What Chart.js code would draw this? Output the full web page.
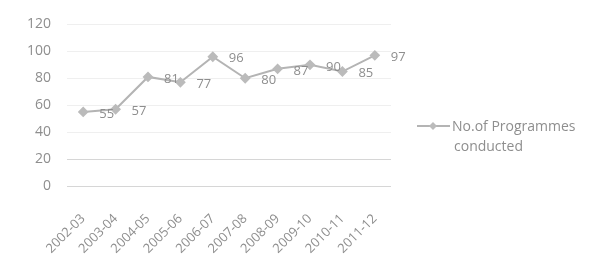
<!DOCTYPE html>
<html>
<head>
<meta charset="utf-8">
<script src="https://cdn.jsdelivr.net/npm/chart.js@4/dist/chart.umd.min.js"></script>
<style>
  html, body { margin: 0; padding: 0; background: #fff; }
  #wrap { width: 611px; height: 263px; position: relative; }
</style>
</head>
<body>
<div id="wrap"><canvas id="myChart"></canvas></div>
<script>
// chart data
let years = ["2002-03", "2003-04", "2004-05", "2005-06", "2006-07", "2007-08", "2008-09", "2009-10", "2010-11", "2011-12"];
let programmes = [55, 57, 81, 77, 96, 80, 87, 90, 85, 97];
let yTicks = [0, 20, 40, 60, 80, 100, 120];
let seriesName = ["No.of Programmes", "conducted"];

let fontFamily = "'Open Sans', 'DejaVu Sans', sans-serif";
let textGrey = "#8e8e8e";
let lineGrey = "#b4b4b4";

// value labels next to each point
let valueLabels = {
  id: "valueLabels",
  afterDatasetsDraw(chart) {
    let ctx = chart.ctx;
    let meta = chart.getDatasetMeta(0);
    ctx.save();
    ctx.font = "13px " + fontFamily;
    ctx.fillStyle = textGrey;
    ctx.textAlign = "left";
    ctx.textBaseline = "middle";
    meta.data.forEach((pt, i) => {
      ctx.fillText(programmes[i], pt.x + 16, pt.y + 2);
    });
    ctx.restore();
  }
};

// legend on the right, two lines of text
let sideLegend = {
  id: "sideLegend",
  afterDraw(chart) {
    let ctx = chart.ctx;
    let area = chart.chartArea;
    let x0 = area.right + 26;
    let y0 = 126;
    ctx.save();
    ctx.strokeStyle = lineGrey;
    ctx.lineWidth = 2;
    ctx.beginPath();
    ctx.moveTo(x0, y0);
    ctx.lineTo(x0 + 33, y0);
    ctx.stroke();
    ctx.fillStyle = "#bbbbbb";
    ctx.beginPath();
    ctx.moveTo(x0 + 16, y0 - 4);
    ctx.lineTo(x0 + 20, y0);
    ctx.lineTo(x0 + 16, y0 + 4);
    ctx.lineTo(x0 + 12, y0);
    ctx.closePath();
    ctx.fill();
    ctx.font = "14px " + fontFamily;
    ctx.fillStyle = textGrey;
    ctx.textAlign = "left";
    ctx.textBaseline = "middle";
    ctx.fillText(seriesName[0], x0 + 35, y0 + 1);
    ctx.fillText(seriesName[1], x0 + 37, y0 + 21);
    ctx.restore();
  }
};

let ctx = document.getElementById("myChart").getContext("2d");

let myChart = new Chart(ctx, {
  type: "line",
  data: {
    labels: years,
    datasets: [{
      label: seriesName.join(" "),
      data: programmes,
      borderColor: lineGrey,
      borderWidth: 2,
      pointStyle: "rectRot",
      pointRadius: 4,
      pointBackgroundColor: "#bbbbbb",
      pointBorderColor: "#bbbbbb",
      tension: 0
    }]
  },
  options: {
    responsive: true,
    maintainAspectRatio: false,
    animation: false,
    layout: { padding: { top: 17, right: 220, bottom: 0, left: 0 } },
    plugins: {
      legend: { display: false },
      tooltip: { enabled: false }
    },
    scales: {
      x: {
        offset: true,
        grid: { display: false },
        border: { display: false },
        ticks: {
          color: textGrey,
          font: { family: fontFamily, size: 13 },
          maxRotation: 45,
          minRotation: 45,
          padding: 17
        },
        afterFit(scale) { scale.height = 77; }
      },
      y: {
        min: 0,
        max: 120,
        afterBuildTicks(scale) {
          scale.ticks = yTicks.map(v => ({ value: v }));
        },
        grid: {
          drawTicks: false,
          color: c => (c.tick && c.tick.value <= 20) ? "#d6d6d6" : "#efefef"
        },
        border: { display: false },
        ticks: {
          color: textGrey,
          font: { family: fontFamily, size: 14 },
          padding: 16
        },
        afterFit(scale) { scale.width = 67; }
      }
    }
  },
  plugins: [valueLabels, sideLegend]
});
</script>
</body>
</html>
